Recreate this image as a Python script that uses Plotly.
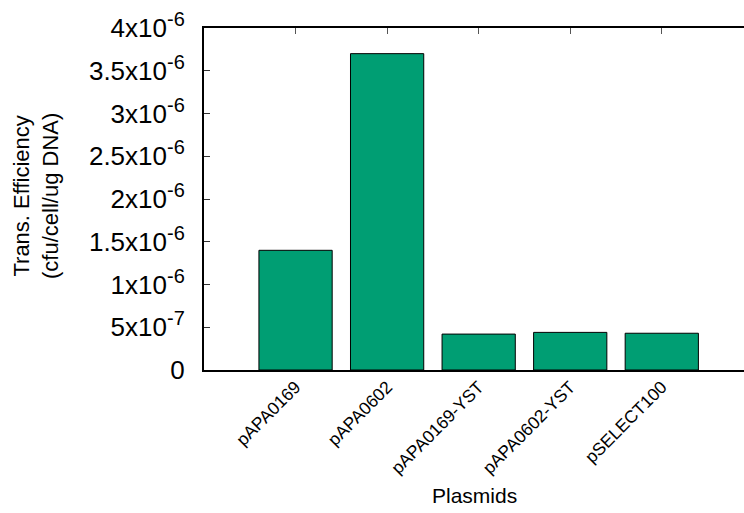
import plotly.graph_objects as go

# Transformation efficiency per plasmid
plasmids = ["pAPA0169", "pAPA0602", "pAPA0169-YST", "pAPA0602-YST", "pSELECT100"]
efficiency = [1.40e-6, 3.70e-6, 0.42e-6, 0.44e-6, 0.43e-6]

y_tick_vals = [0, 0.5e-6, 1.0e-6, 1.5e-6, 2.0e-6, 2.5e-6, 3.0e-6, 3.5e-6, 4.0e-6]
y_mantissas = ["0", "5", "1", "1.5", "2", "2.5", "3", "3.5", "4"]
y_exponents = [None, "-7", "-6", "-6", "-6", "-6", "-6", "-6", "-6"]

FONT = "Liberation Sans, Arial, sans-serif"
BAR_COLOR = "#009E73"


def tick_label(mantissa, exponent):
    if exponent is None:
        return mantissa
    return f"{mantissa}x10<sup><span style='font-size:20px'>{exponent}</span></sup>"


y_tick_text = [tick_label(m, e) for m, e in zip(y_mantissas, y_exponents)]
positions = list(range(len(plasmids)))

fig = go.Figure(
    go.Bar(
        x=positions,
        y=efficiency,
        width=0.8,
        marker=dict(color=BAR_COLOR, line=dict(color="black", width=1)),
        hoverinfo="skip",
    )
)

fig.update_layout(
    width=744,
    height=513,
    margin=dict(l=204, r=0, t=28, b=143),
    paper_bgcolor="white",
    plot_bgcolor="white",
    showlegend=False,
    font=dict(family=FONT, color="black"),
)

fig.update_xaxes(
    range=[-1, 4.898],
    tickmode="array",
    tickvals=positions,
    ticktext=plasmids,
    tickangle=-45,
    tickfont=dict(size=17.5, family=FONT, color="black"),
    ticklabelstandoff=-2,
    showline=True,
    linecolor="black",
    linewidth=2,
    mirror="ticks",
    ticks="inside",
    ticklen=6,
    tickcolor="#555555",
    tickwidth=1,
    showgrid=False,
    zeroline=False,
    layer="below traces",
)

fig.update_yaxes(
    range=[0, 4e-6],
    tickmode="array",
    tickvals=y_tick_vals,
    ticktext=y_tick_text,
    tickfont=dict(size=26, family=FONT, color="black"),
    showline=True,
    linecolor="black",
    linewidth=2,
    mirror=False,
    ticks="inside",
    ticklen=6,
    tickcolor="#333333",
    tickwidth=1,
    ticklabelstandoff=12,
    showgrid=False,
    zeroline=False,
)

# Axis titles
fig.add_annotation(
    text="Trans. Efficiency<br>(cfu/cell/ug DNA)",
    xref="paper", yref="paper",
    x=(36 - 204) / 540, y=(370 - 196) / 342,
    xanchor="center", yanchor="middle",
    textangle=-90,
    showarrow=False,
    font=dict(size=22, family=FONT, color="black"),
)
fig.add_annotation(
    text="Plasmids",
    xref="paper", yref="paper",
    x=0.5, y=-(495 - 370) / 342,
    xanchor="center", yanchor="middle",
    showarrow=False,
    font=dict(size=21, family=FONT, color="black"),
)

fig.write_html("out.html")
